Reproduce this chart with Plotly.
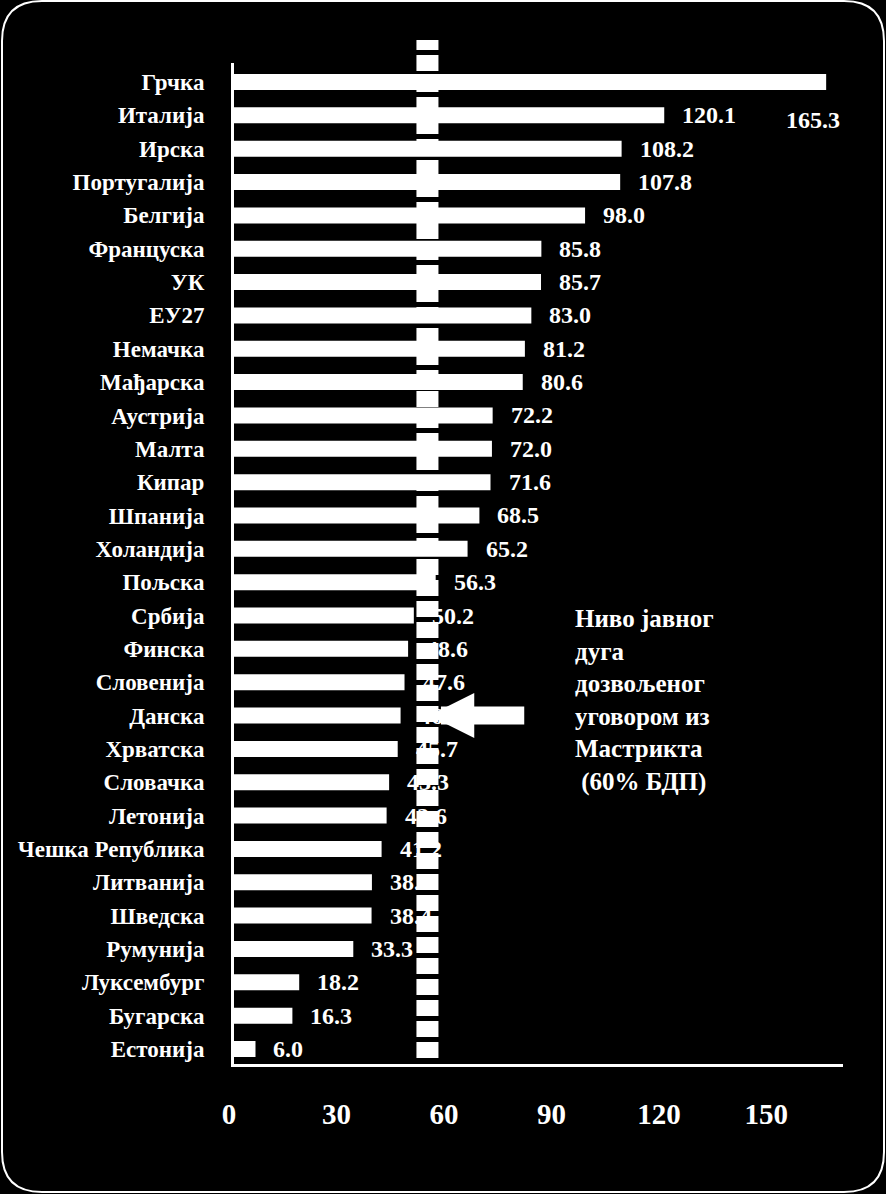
import plotly.graph_objects as go

# public debt as % of GDP, top to bottom as in the reference
countries = ["Грчка", "Италија", "Ирска", "Португалија", "Белгија", "Француска",
             "УК", "ЕУ27", "Немачка", "Мађарска", "Аустрија", "Малта", "Кипар",
             "Шпанија", "Холандија", "Пољска", "Србија", "Финска", "Словенија",
             "Данска", "Хрватска", "Словачка", "Летонија", "Чешка Република",
             "Литванија", "Шведска", "Румунија", "Луксембург", "Бугарска", "Естонија"]
debt = [165.3, 120.1, 108.2, 107.8, 98.0, 85.8, 85.7, 83.0, 81.2, 80.6, 72.2, 72.0,
        71.6, 68.5, 65.2, 56.3, 50.2, 48.6, 47.6, 46.5, 45.7, 43.3, 42.6, 41.2,
        38.5, 38.4, 33.3, 18.2, 16.3, 6.0]
x_ticks = [0, 30, 60, 90, 120, 150]
ref_line = 54          # where the dotted "60%" line sits in the picture
note_text = "Ниво јавног<br>дуга<br>дозвољеног<br>уговором из<br>Мастрикта<br> (60% БДП)"

W, H = 886, 1194
L, R, T, B = 234, 843, 63, 1064   # plot area in pixels
FONT = "Liberation Serif"


def px(x):
    return (x - L) / (R - L)


def py(y):
    return (B - y) / (B - T)


def rounded_rect(x0, y0, x1, y1, r):
    a, b, c, d = px(x0), px(x1), py(y0), py(y1)
    rx, ry = r / (R - L), r / (B - T)
    return ("M {},{} L {},{} Q {},{} {},{} L {},{} Q {},{} {},{} "
            "L {},{} Q {},{} {},{} L {},{} Q {},{} {},{} Z").format(
        a + rx, c, b - rx, c, b, c, b, c - ry, b, d + ry, b, d, b - rx, d,
        a + rx, d, a, d, a, d + ry, a, c - ry, a, c, a + rx, c)


bars = go.Bar(
    x=debt, y=countries, orientation="h",
    marker=dict(color="white", line=dict(width=0)),
    hoverinfo="x+y", showlegend=False)

label_font = dict(family=FONT, size=24, color="white", weight="bold")
annotations = []
for i, (c, v) in enumerate(zip(countries, debt)):
    if i == 0:
        # Greece's label sits off to the right, next to Italy
        annotations.append(dict(x=v, y=countries[1], xref="x", yref="y", text="{:.1f}".format(v),
                                xanchor="right", xshift=16, yshift=-5, showarrow=False,
                                font=label_font))
        continue
    annotations.append(dict(x=v, y=c, xref="x", yref="y", text="{:.1f}".format(v),
                            xanchor="left", xshift=16, showarrow=False, font=label_font))

# arrow pointing at the reference line
annotations.append(dict(x=ref_line + 0.5, y="Данска", xref="x", yref="y", text=" ",
                        showarrow=True, ax=98, ay=0, arrowhead=2, arrowsize=0.5,
                        arrowwidth=18, arrowcolor="white", standoff=0))
annotations.append(dict(x=94.5, y=py(603), xref="x", yref="paper", text=note_text,
                        xanchor="left", yanchor="top", align="left", showarrow=False,
                        font=dict(family=FONT, size=25, color="white", weight="bold")))

fig = go.Figure(data=[bars])
fig.update_layout(
    width=W, height=H,
    margin=dict(l=L, r=W - R, t=T, b=H - B, pad=0),
    paper_bgcolor="black", plot_bgcolor="black",
    bargap=0.52,
    font=dict(family=FONT, color="white", weight="bold"),
    xaxis=dict(range=[0, 170], tickvals=x_ticks, showgrid=False, zeroline=False,
               showline=True, linecolor="white", linewidth=3, ticks="",
               ticklabelstandoff=22, ticklabelshift=-5,
               tickfont=dict(family=FONT, size=29, color="white", weight="bold")),
    yaxis=dict(type="category", categoryorder="array", categoryarray=countries,
               range=[len(countries) - 0.55, -0.57], showgrid=False, zeroline=False,
               showline=True, linecolor="white", linewidth=3, ticks="",
               ticklabelstandoff=22,
               tickfont=dict(family=FONT, size=23, color="white", weight="bold")),
    annotations=annotations,
    shapes=[
        dict(type="line", xref="x", yref="paper", x0=ref_line, x1=ref_line,
             y0=py(1058), y1=py(40), line=dict(color="white", width=22, dash="16px,5px"),
             layer="below"),
        dict(type="path", xref="paper", yref="paper", path=rounded_rect(2, 1, 884, 1192, 40),
             line=dict(color="white", width=2)),
    ],
)

fig.write_html("out.html", config={"displayModeBar": False},
               post_script="document.body.style.margin='0';")
